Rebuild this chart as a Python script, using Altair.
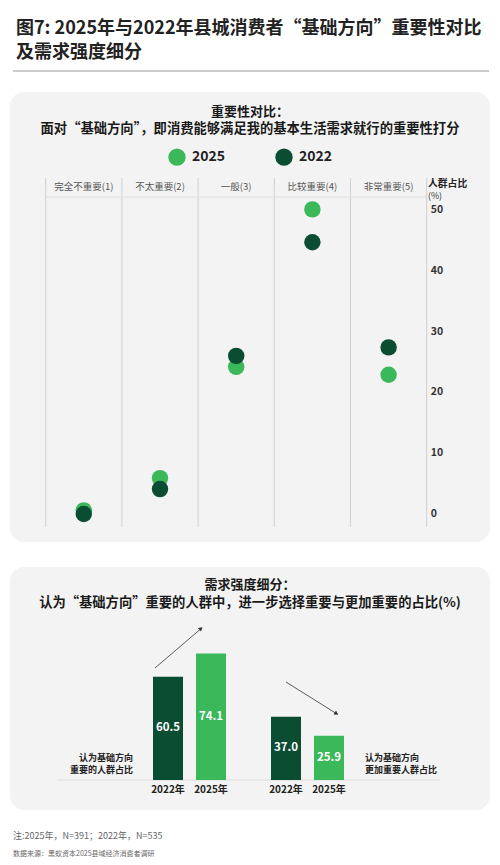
import altair as alt
import pandas as pd

FONT = "Noto Sans CJK SC"
LIGHT = "#3bb85a"
DARK = "#0b4d33"
PANEL = "#f3f3f3"

# ---------------- data ----------------
categories = ["完全不重要(1)", "不太重要(2)", "一般(3)", "比较重要(4)", "非常重要(5)"]
share_2025 = [0.6, 5.9, 24.2, 50.1, 22.9]
share_2022 = [0.0, 4.1, 26.0, 44.7, 27.4]
years = ["2025", "2022"]
y_ticks = [0, 10, 20, 30, 40, 50]

bar_groups = ["重要", "更加重要"]
bar_years = ["2022", "2025"]
bar_important = [60.5, 74.1]
bar_more_important = [37.0, 25.9]

# ---------------- tables ----------------
pts_df = pd.DataFrame(
    [{"cat": c, "share": v, "year": "2025"} for c, v in zip(categories, share_2025)]
    + [{"cat": c, "share": v, "year": "2022"} for c, v in zip(categories, share_2022)]
)
cat_df = pd.DataFrame({"cat": categories})
tick_df = pd.DataFrame({"v": y_ticks})
bar_df = pd.DataFrame(
    [{"group": bar_groups[0], "year": y, "value": v} for y, v in zip(bar_years, bar_important)]
    + [{"group": bar_groups[1], "year": y, "value": v} for y, v in zip(bar_years, bar_more_important)]
)
one = pd.DataFrame({"k": [0]})

# ---------------- scales ----------------
cat_scale = alt.Scale(type="band", domain=categories, range=[37.7, 418.7],
                      paddingInner=0, paddingOuter=0)
share_scale = alt.Scale(domain=[0, 50], range=[506, 202], nice=False, zero=False)
group_scale = alt.Scale(type="band", domain=bar_groups, range=[145, 336],
                        paddingInner=0.3814, paddingOuter=0)
off_scale = alt.Scale(type="band", domain=bar_years, paddingInner=0.3023, paddingOuter=0)
bar_y = alt.Scale(domain=[0, 100], range=[772, 601.2], nice=False)


def txt(s, x, y, size, weight="normal", color="#222", align="left", baseline="middle"):
    return alt.Chart(one).mark_text(
        text=s, font=FONT, fontSize=size, fontWeight=weight, color=color,
        align=align, baseline=baseline
    ).encode(x=alt.value(x), y=alt.value(y))


def hline(x1, x2, y, color, w=1):
    return alt.Chart(one).mark_rule(color=color, strokeWidth=w).encode(
        x=alt.value(x1), x2=alt.value(x2), y=alt.value(y))


def seg(x1, y1, x2, y2, color="#333", w=0.8):
    return alt.Chart(one).mark_rule(color=color, strokeWidth=w).encode(
        x=alt.value(x1), x2=alt.value(x2), y=alt.value(y1), y2=alt.value(y2))


def panel(y1, y2):
    return alt.Chart(one).mark_rect(fill=PANEL, cornerRadius=14).encode(
        x=alt.value(2), x2=alt.value(482), y=alt.value(y1), y2=alt.value(y2))


layers = []

# header
layers.append(txt("图7: 2025年与2022年县城消费者“基础方向”重要性对比", 8, 21, 18, "bold", "#222"))
layers.append(txt("及需求强度细分", 8, 45, 18, "bold", "#222"))
layers.append(hline(5, 481, 63, "#9a9a9a", 1))

# panels
layers.append(panel(84, 534))
layers.append(panel(559, 802))

# ---- panel 1 ----
layers.append(txt("重要性对比：", 242, 103.5, 13, "bold", "#1a1a1a", "center"))
layers.append(txt("面对“基础方向”，即消费能够满足我的基本生活需求就行的重要性打分",
                  242, 121, 13.3, "bold", "#1a1a1a", "center"))

seps = alt.Chart(cat_df).mark_rule(color="#cfcfcf", strokeWidth=1).encode(
    x=alt.X("cat:N", scale=cat_scale, axis=None, bandPosition=0),
    y=alt.value(170), y2=alt.value(519))
last_sep = alt.Chart(cat_df.tail(1)).mark_rule(color="#cfcfcf", strokeWidth=1).encode(
    x=alt.X("cat:N", scale=cat_scale, axis=None, bandPosition=1),
    y=alt.value(170), y2=alt.value(519))
layers += [seps, last_sep]
layers.append(hline(37.7, 418.7, 189, "#dedede", 1))

hdr = alt.Chart(cat_df).mark_text(font=FONT, fontSize=9.5, color="#555").encode(
    x=alt.X("cat:N", scale=cat_scale, axis=None),
    y=alt.value(179),
    text="cat:N")
layers.append(hdr)

ticks = alt.Chart(tick_df).mark_text(align="left", font=FONT, fontSize=10.5,
                                     fontWeight="bold", color="#333").encode(
    x=alt.value(422.7),
    y=alt.Y("v:Q", scale=share_scale, axis=None),
    text="v:Q")
layers.append(ticks)
layers.append(txt("人群占比", 420, 176.3, 9.8, "bold", "#222"))
layers.append(txt("(%)", 420, 188, 8.8, "normal", "#333"))

pts = alt.Chart(pts_df).mark_circle(size=270, opacity=1).encode(
    x=alt.X("cat:N", scale=cat_scale, axis=None),
    y=alt.Y("share:Q", scale=share_scale, axis=None),
    color=alt.Color("year:N", scale=alt.Scale(domain=years, range=[LIGHT, DARK]),
                    legend=alt.Legend(orient="none", legendX=160, legendY=140,
                                      direction="horizontal", title=None,
                                      symbolType="circle", symbolSize=300,
                                      symbolStrokeWidth=0, symbolOpacity=1,
                                      labelFont=FONT, labelFontSize=14,
                                      labelFontWeight="bold", labelColor="#222",
                                      labelOffset=6, columnPadding=49, padding=0)),
)
layers.append(pts)

# ---- panel 2 ----
layers.append(txt("需求强度细分：", 242, 576.5, 13, "bold", "#1a1a1a", "center"))
layers.append(txt("认为“基础方向”重要的人群中，进一步选择重要与更加重要的占比(%)",
                  242, 594.5, 13.3, "bold", "#1a1a1a", "center"))

layers.append(hline(49, 432, 772, "#dcdcdc", 1))

bars = alt.Chart(bar_df).mark_bar().encode(
    x=alt.X("group:N", scale=group_scale, axis=None),
    xOffset=alt.XOffset("year:N", scale=off_scale),
    y=alt.Y("value:Q", scale=bar_y, axis=None),
    color=alt.Color("year:N", scale=alt.Scale(domain=bar_years, range=[DARK, LIGHT]),
                    legend=None),
)
layers.append(bars)

bar_lbl = alt.Chart(bar_df).transform_calculate(
    mid="datum.value / 2", lbl="format(datum.value, '.1f')"
).mark_text(font=FONT, fontSize=11.5, fontWeight="bold", color="white").encode(
    x=alt.X("group:N", scale=group_scale, axis=None),
    xOffset=alt.XOffset("year:N", scale=off_scale),
    y=alt.Y("mid:Q", scale=bar_y, axis=None),
    text="lbl:N",
)
layers.append(bar_lbl)

yr_lbl = alt.Chart(bar_df).transform_calculate(
    lbl="datum.year + '年'"
).mark_text(font=FONT, fontSize=10, fontWeight="bold", color="#222").encode(
    x=alt.X("group:N", scale=group_scale, axis=None),
    xOffset=alt.XOffset("year:N", scale=off_scale),
    y=alt.value(782),
    text="lbl:N",
)
layers.append(yr_lbl)

layers.append(txt("认为基础方向", 125, 749.5, 9, "bold", "#222", "right"))
layers.append(txt("重要的人群占比", 125, 761.8, 9, "bold", "#222", "right"))
layers.append(txt("认为基础方向", 357, 749.5, 9, "bold", "#222", "left"))
layers.append(txt("更加重要人群占比", 357, 761.8, 9, "bold", "#222", "left"))

# trend arrows
layers.append(seg(147, 660, 192, 621.5))
layers.append(alt.Chart(one).mark_point(shape="triangle-up", filled=True, size=22,
                                        angle=49.6, color="#333", opacity=1).encode(
    x=alt.value(193), y=alt.value(620.5)))
layers.append(seg(278, 674, 327, 704.7))
layers.append(alt.Chart(one).mark_point(shape="triangle-up", filled=True, size=22,
                                        angle=122.1, color="#333", opacity=1).encode(
    x=alt.value(328.5), y=alt.value(705.6)))

# footer
layers.append(txt("注:2025年，N=391；2022年，N=535", 5, 828, 9, "normal", "#666"))
layers.append(txt("数据来源：黑蚁资本2025县域经济消费者调研", 5, 846, 7, "normal", "#666"))

chart = alt.layer(*layers).resolve_scale(
    x="independent", y="independent", color="independent"
).properties(
    width=484, height=849, padding=0, autosize="none", background="white"
).configure_view(stroke=None)

chart.save("out.html", embed_options={"renderer": "svg", "actions": False})
